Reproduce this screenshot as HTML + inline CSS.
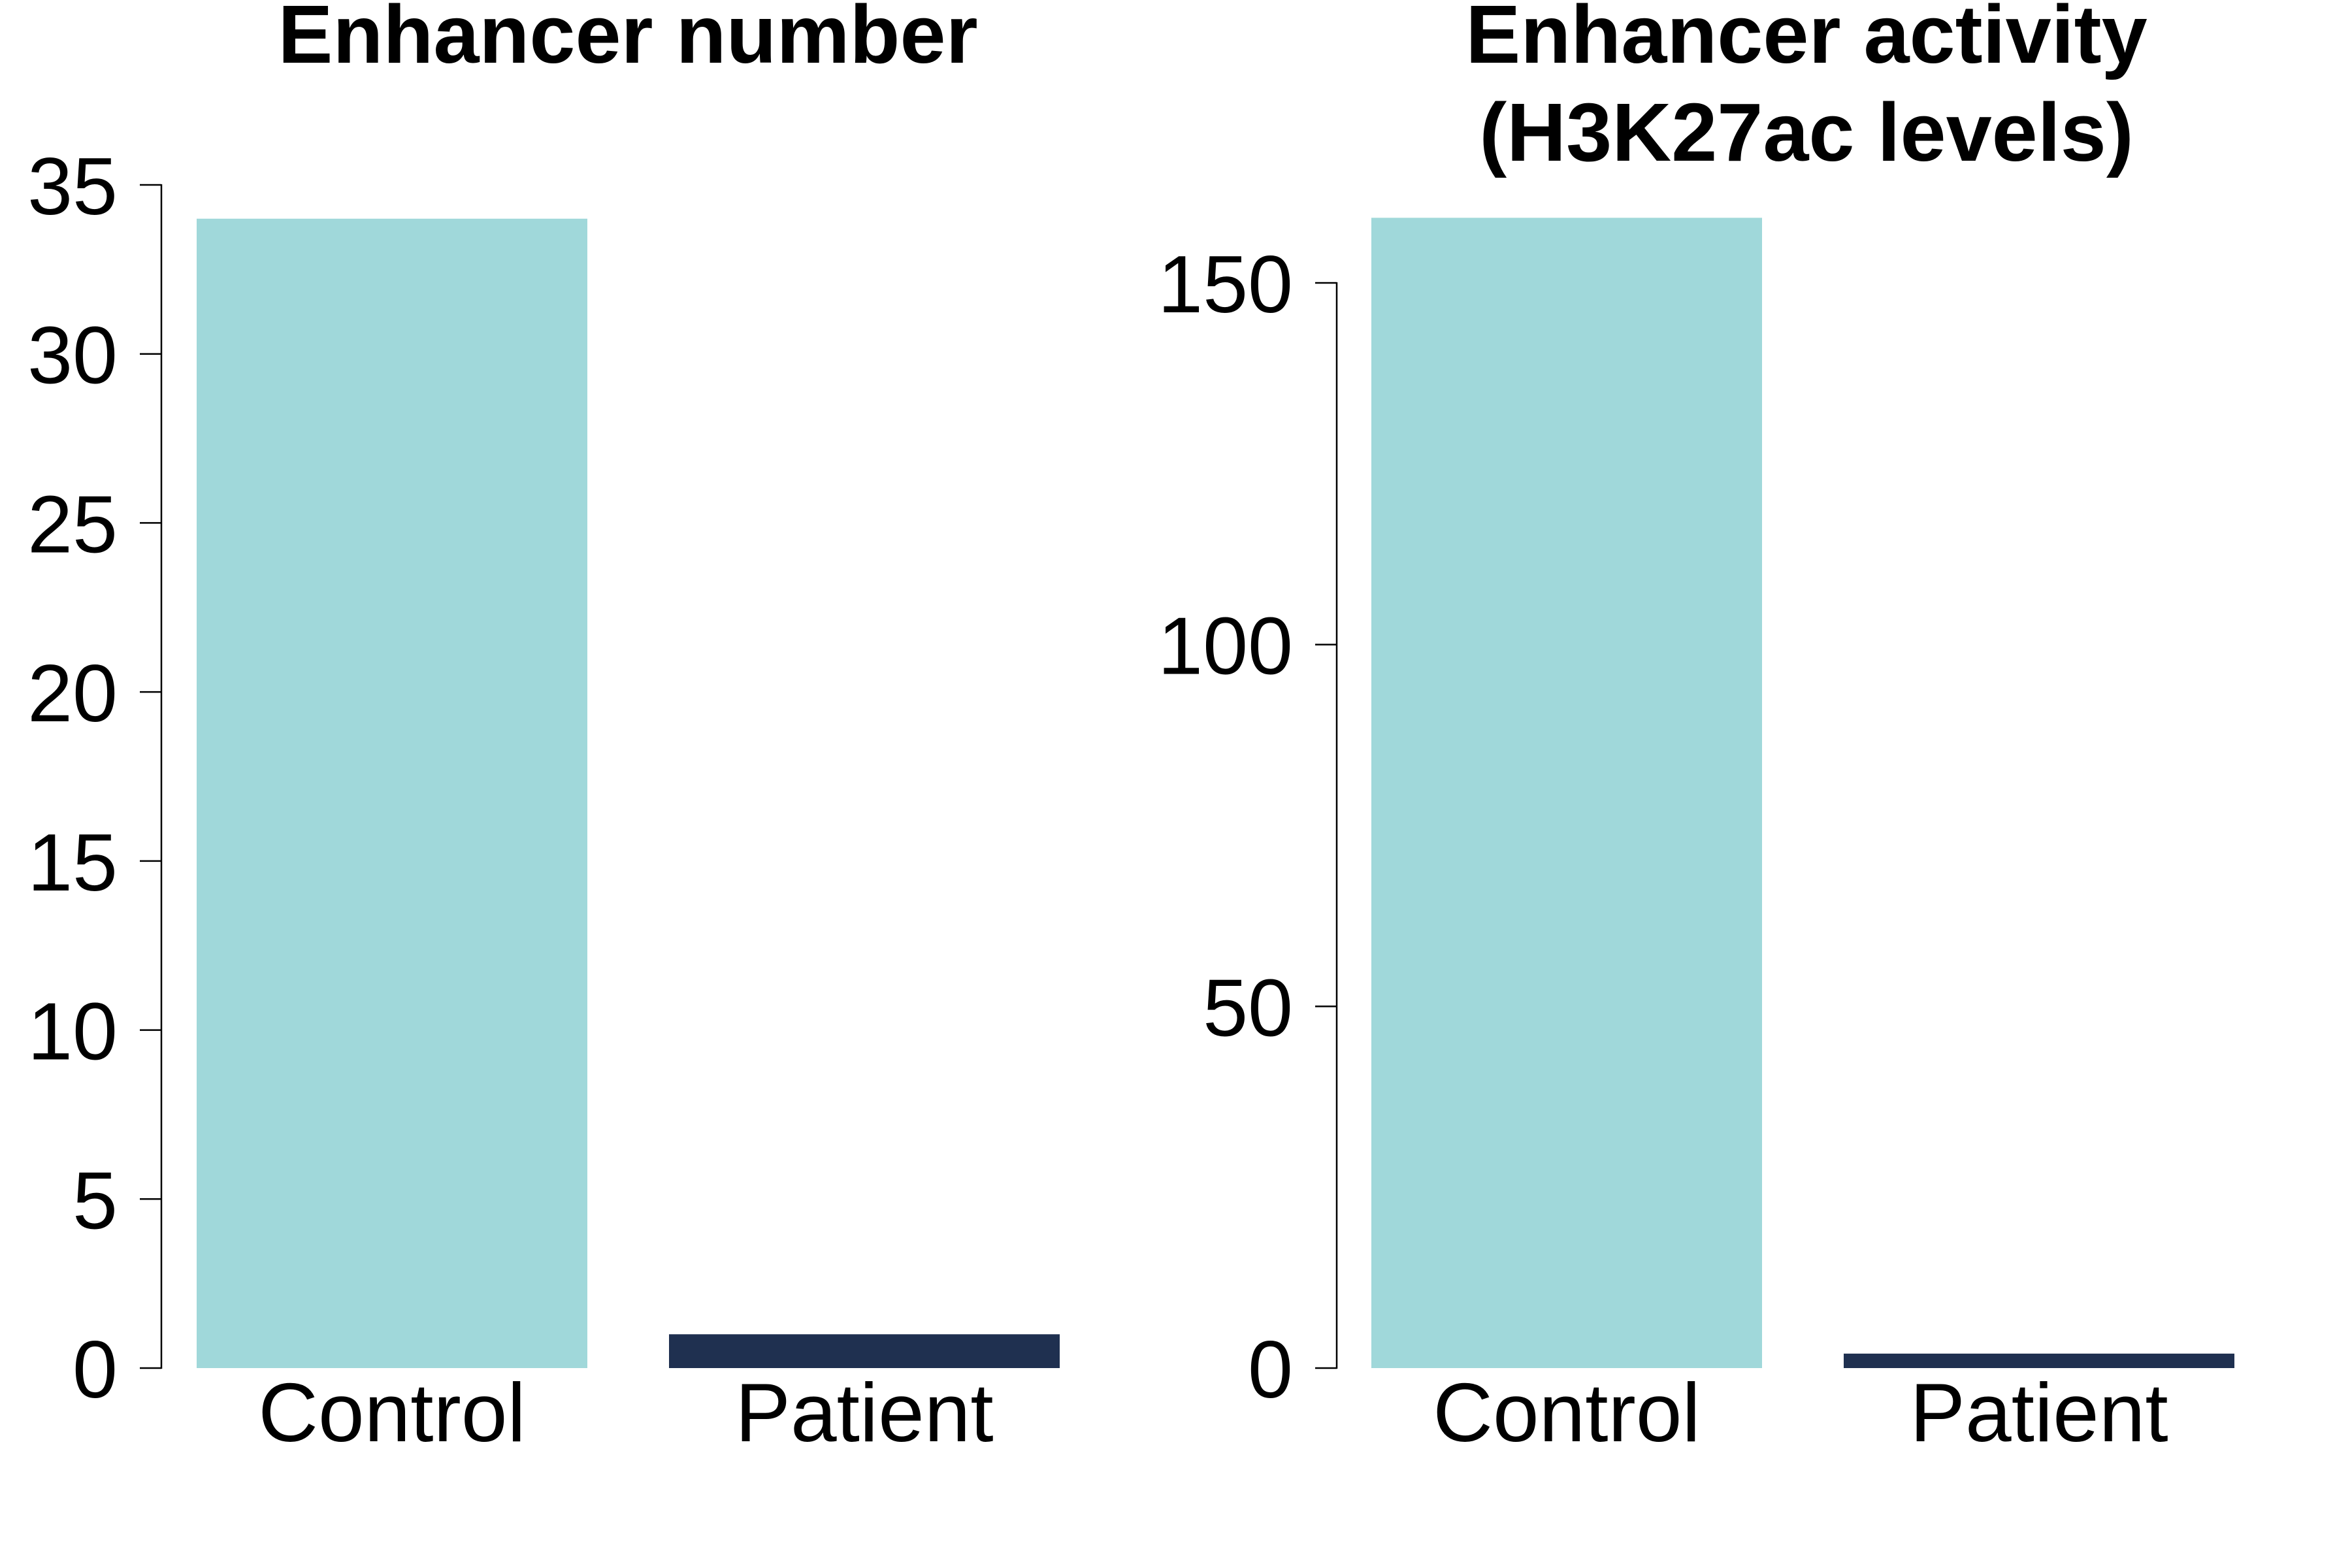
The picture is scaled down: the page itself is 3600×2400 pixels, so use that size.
<!DOCTYPE html>
<html><head><meta charset="utf-8"><style>
html,body{margin:0;padding:0;background:#fff;}
svg{display:block;}
text{font-family:"Liberation Sans",Arial,sans-serif;fill:#000;}
</style></head><body>
<svg id="chart" width="3600" height="2400" viewBox="0 0 3600 2400"></svg>
<script>
const categories = ["Control", "Patient"];
const numberValues = [34, 1];
const activityValues = [159, 2];
const numberTicks = [0, 5, 10, 15, 20, 25, 30, 35];
const activityTicks = [0, 50, 100, 150];
const barColors = ["#a0d8da", "#1f3050"];

const NS = "http://www.w3.org/2000/svg";
const svg = document.getElementById("chart");
function mk(tag, attrs, parent) {
  const e = document.createElementNS(NS, tag);
  for (const k in attrs) e.setAttribute(k, attrs[k]);
  (parent || svg).appendChild(e);
  return e;
}
function panel(opts) {
  const g = mk("g", {});
  
  
  const y = v => opts.y0 - v / opts.vTop * (opts.y0 - opts.yTop);
  const ax = mk("line", {x1: opts.axisX, x2: opts.axisX, y1: y(opts.ticks[0]) + 1, y2: y(opts.ticks[opts.ticks.length-1]) - 1, stroke: "#000", "stroke-width": 2.5}, g);
  
  
  opts.ticks.forEach(t => {
    const tl = mk("line", {x1: opts.axisX - 33, x2: opts.axisX, y1: y(t), y2: y(t), stroke: "#000", "stroke-width": 2.5}, g);
    
    
    const tx = mk("text", {x: opts.axisX - 67, y: y(t) + 45, "text-anchor": "end", "font-size": 124}, g);
    tx.textContent = t;
    
    
  });
  opts.values.forEach((v, i) => {
    const x = opts.barX[i];
    const r = mk("rect", {x: x, y: y(v), width: opts.barW, height: y(0) - y(v), fill: barColors[i]}, g);
    
    
    const lab = mk("text", {x: x + opts.barW / 2, y: 2206, "text-anchor": "middle", "font-size": 127}, g);
    lab.textContent = categories[i];
    
    
  });
  opts.title.forEach((line, i) => {
    const t = mk("text", {x: opts.titleX, y: 96 + i * 150, "text-anchor": "middle", "font-size": 126, "font-weight": "bold"}, g);
    t.textContent = line;
    
    
  });
}
panel({name: "enhancer-number-panel", axisX: 247, y0: 2094, yTop: 283, vTop: 35,
  ticks: numberTicks, values: numberValues, barX: [301, 1024], barW: 598,
  title: ["Enhancer number"], titleX: 961});
panel({name: "enhancer-activity-panel", axisX: 2046, y0: 2094, yTop: 433, vTop: 150,
  ticks: activityTicks, values: activityValues, barX: [2099, 2822], barW: 598,
  title: ["Enhancer activity", "(H3K27ac levels)"], titleX: 2765});
</script>
</body></html>
